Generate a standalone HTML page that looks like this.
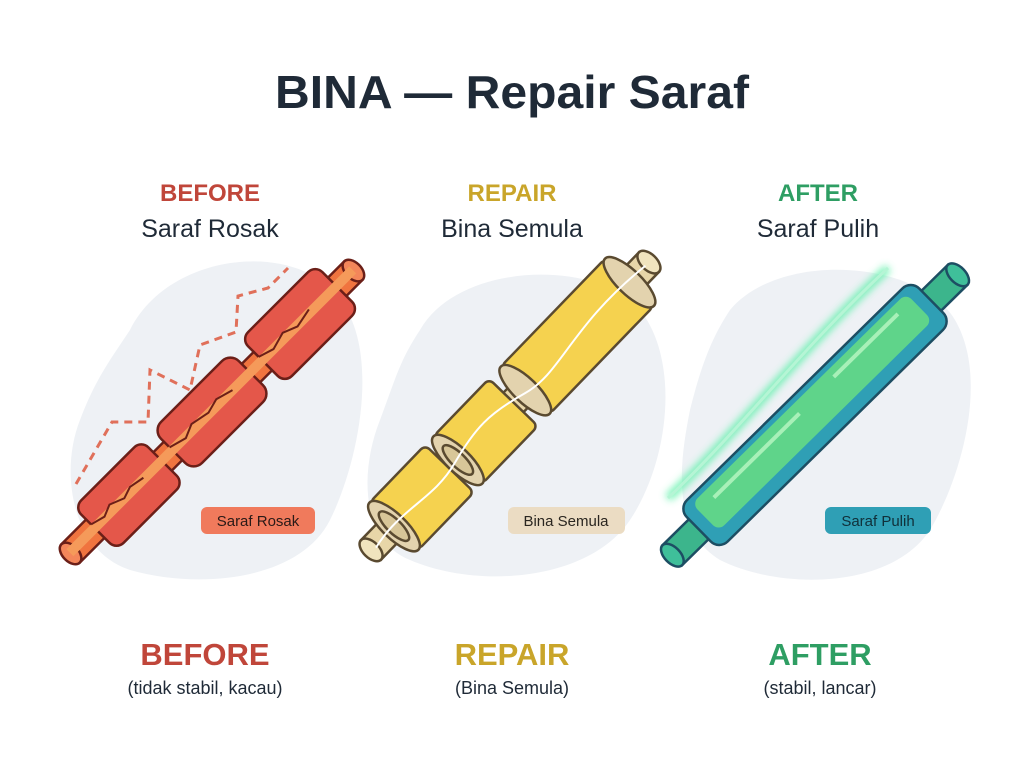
<!DOCTYPE html>
<html><head><meta charset="utf-8"><style>
body{margin:0;background:#fff;width:1024px;height:765px;overflow:hidden;font-family:"Liberation Sans",sans-serif}
svg{display:block}
</style></head><body>
<svg width="1024" height="765" viewBox="0 0 1024 765" xmlns="http://www.w3.org/2000/svg" font-family="Liberation Sans, sans-serif">
<defs>
<filter id="glow" x="-20%" y="-20%" width="140%" height="140%"><feGaussianBlur stdDeviation="4"/></filter>
</defs>
<path d="M130 330 C170 250 300 240 340 300 C380 350 360 460 330 520 C300 580 200 590 130 570 C70 550 60 470 80 420 C95 380 110 360 130 330Z" fill="#eef1f5"/>
<path d="M420 330 C460 260 600 260 640 310 C680 360 670 460 630 520 C590 580 480 590 410 560 C360 540 360 470 380 420 C395 380 400 360 420 330Z" fill="#eef1f5"/>
<path d="M730 310 C780 250 920 260 955 320 C990 380 960 480 930 530 C890 590 780 590 720 560 C670 530 680 460 690 410 C700 370 710 340 730 310Z" fill="#eef1f5"/>

<text x="512" y="108" text-anchor="middle" font-size="46" font-weight="bold" fill="#1f2a37" textLength="474" lengthAdjust="spacingAndGlyphs">BINA — Repair Saraf</text>

<text x="210" y="201" text-anchor="middle" font-size="24" font-weight="bold" fill="#c0463a">BEFORE</text>
<text x="210" y="237" text-anchor="middle" font-size="25" fill="#1f2a37">Saraf Rosak</text>
<text x="512" y="201" text-anchor="middle" font-size="24" font-weight="bold" fill="#c9a52a">REPAIR</text>
<text x="512" y="237" text-anchor="middle" font-size="25" fill="#1f2a37">Bina Semula</text>
<text x="818" y="201" text-anchor="middle" font-size="24" font-weight="bold" fill="#2e9e63">AFTER</text>
<text x="818" y="237" text-anchor="middle" font-size="25" fill="#1f2a37">Saraf Pulih</text>

<polyline points="76,484 112,422 148,422 150,370 190,390 200,345 236,332 238,296 268,288 288,268" fill="none" stroke="#e0705a" stroke-width="3" stroke-dasharray="8,6"/>
<g transform="translate(212,412) rotate(-45)" stroke="#6b1f18" stroke-width="2.5">
<rect x="-200" y="-13" width="400" height="26" fill="#f0743f"/>
<ellipse cx="-200" cy="0" rx="8" ry="13" fill="#f4865a"/>
<ellipse cx="200" cy="0" rx="8" ry="13" fill="#f4865a"/>
<rect x="-165" y="-30" width="95" height="60" rx="10" fill="#e4574a"/>
<rect x="-55" y="-29" width="110" height="58" rx="12" fill="#e4574a"/>
<rect x="72" y="-31" width="105" height="62" rx="10" fill="#e4574a"/>
<rect x="-200" y="-6" width="400" height="10" fill="#f59a5a" stroke="none"/>
<path d="M-165 -6 l15 4 l12 -5 l15 6 l12 -4 l16 3 M-55 -5 l18 5 l14 -6 l20 4 l15 -4 l18 5 M72 -6 l16 5 l18 -5 l15 6 l20 -4" fill="none" stroke-width="2"/>
</g>
<rect x="201" y="507" width="114" height="27" rx="6" fill="#f07a5c"/>
<text x="258" y="526" text-anchor="middle" font-size="15" fill="#2a1a17">Saraf Rosak</text>

<g transform="translate(510,406) rotate(-46)" stroke="#5a4a30" stroke-width="2.5">
<rect x="-200" y="-14" width="400" height="28" fill="#e8d6a8"/>
<ellipse cx="-200" cy="0" rx="8" ry="14" fill="#f1e4be"/>
<ellipse cx="200" cy="0" rx="8" ry="14" fill="#f1e4be"/>
<rect x="-167" y="-34" width="80" height="68" rx="6" fill="#f5d24f"/>
<ellipse cx="-167" cy="0" rx="12" ry="34" fill="#e3d3ae"/>
<ellipse cx="-167" cy="0" rx="7" ry="20" fill="#d8c698"/>
<rect x="-75" y="-34" width="80" height="68" rx="6" fill="#f5d24f"/>
<ellipse cx="-75" cy="0" rx="12" ry="34" fill="#e3d3ae"/>
<ellipse cx="-75" cy="0" rx="7" ry="20" fill="#d8c698"/>
<rect x="22" y="-34" width="150" height="68" rx="6" fill="#f5d24f"/>
<ellipse cx="22" cy="0" rx="12" ry="34" fill="#e3d3ae"/>
<ellipse cx="172" cy="0" rx="12" ry="34" fill="#e3d3ae"/>
<path d="M-195 2 C-150 -8 -120 10 -80 0 S-20 -10 20 2 S100 -12 195 0" fill="none" stroke="#fff" stroke-width="2"/>
</g>
<rect x="508" y="507" width="117" height="27" rx="6" fill="#ebdcc3"/>
<text x="566" y="526" text-anchor="middle" font-size="15" fill="#2a2620">Bina Semula</text>

<path d="M668 498 C740 430 800 350 888 268" fill="none" stroke="#4cf0a0" stroke-width="8" filter="url(#glow)" opacity="0.8"/>
<path d="M668 498 C740 430 800 350 888 268" fill="none" stroke="#b5f5d5" stroke-width="3"/>
<g transform="translate(815,415) rotate(-44.5)" stroke="#1d4e63" stroke-width="2.5">
<rect x="-200" y="-14" width="400" height="28" fill="#3cb58c"/>
<ellipse cx="-200" cy="0" rx="8" ry="14" fill="#3fbf9a"/>
<ellipse cx="200" cy="0" rx="8" ry="14" fill="#3fbf9a"/>
<rect x="-163" y="-29" width="326" height="58" rx="12" fill="#2f9fb5"/>
<rect x="-150" y="-23" width="300" height="38" rx="8" fill="#5fd48a" stroke="none"/>
<line x1="-130" y1="-12" x2="-10" y2="-12" stroke="#a8f0b8" stroke-width="4"/>
<line x1="40" y1="-14" x2="130" y2="-14" stroke="#a8f0b8" stroke-width="4"/>
</g>
<rect x="825" y="507" width="106" height="27" rx="6" fill="#2f9fb5"/>
<text x="878" y="526" text-anchor="middle" font-size="15" fill="#10303a">Saraf Pulih</text>

<text x="205" y="665" text-anchor="middle" font-size="31" font-weight="bold" fill="#c0463a">BEFORE</text>
<text x="205" y="694" text-anchor="middle" font-size="18" fill="#1f2a37">(tidak stabil, kacau)</text>
<text x="512" y="665" text-anchor="middle" font-size="31" font-weight="bold" fill="#c9a52a">REPAIR</text>
<text x="512" y="694" text-anchor="middle" font-size="18" fill="#1f2a37">(Bina Semula)</text>
<text x="820" y="665" text-anchor="middle" font-size="31" font-weight="bold" fill="#2e9e63">AFTER</text>
<text x="820" y="694" text-anchor="middle" font-size="18" fill="#1f2a37">(stabil, lancar)</text>
</svg>
</body></html>
